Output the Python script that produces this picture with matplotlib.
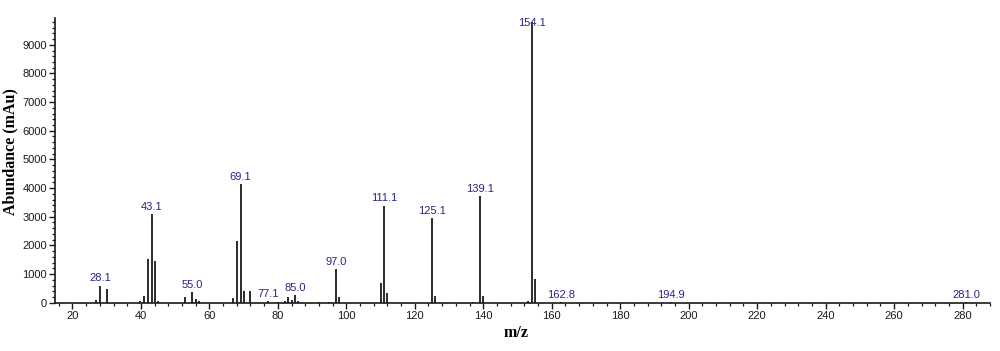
import matplotlib
matplotlib.use("Agg")
import matplotlib.pyplot as plt
from matplotlib.ticker import MultipleLocator

# Peak positions (m/z) and abundances
mz = [27, 28.1, 30, 39.7, 41, 42, 43.1, 44, 45, 53, 55.0, 56, 57,
      67, 68, 69.1, 70, 72, 77.1, 80, 82, 83, 84, 85.0, 86, 92, 95,
      97.0, 98, 110, 111.1, 112, 125.1, 126, 137, 139.1, 140,
      153, 154.1, 155, 162.8, 194.9, 281.0]
abundance = [100, 600, 480, 60, 245, 1515, 3100, 1445, 60, 215, 360, 125, 50,
             150, 2145, 4145, 410, 410, 60, 30, 50, 190, 100, 270, 50, 30, 30,
             1180, 190, 680, 3390, 330, 2970, 245, 20, 3727, 245,
             60, 9800, 817, 20, 10, 10]

# Labelled peaks
label_mz = [28.1, 43.1, 55.0, 69.1, 77.1, 85.0, 97.0, 111.1, 125.1, 139.1,
            154.1, 162.8, 194.9, 281.0]
label_text = ["28.1", "43.1", "55.0", "69.1", "77.1", "85.0", "97.0", "111.1",
              "125.1", "139.1", "154.1", "162.8", "194.9", "281.0"]

x_ticks = [20, 40, 60, 80, 100, 120, 140, 160, 180, 200, 220, 240, 260, 280]
y_ticks = [0, 1000, 2000, 3000, 4000, 5000, 6000, 7000, 8000, 9000]

fig = plt.figure(figsize=(10, 3.51), dpi=100)
ax = fig.add_axes([0.0553, 0.1376, 0.9347, 0.8124])

ax.vlines(mz, 0, abundance, colors="#1a1a1a", linewidth=1.3)

lookup = dict(zip(mz, abundance))
for m, t in zip(label_mz, label_text):
    h = min(lookup[m], 9500)
    ax.annotate(t, (m, h), xytext=(0, 1.5), textcoords="offset points",
                ha="center", va="bottom", color="#25258a", fontsize=8,
                family="Liberation Sans", annotation_clip=False)

ax.set_xlim(15, 288)
ax.set_ylim(0, 9950)
ax.set_xticks(x_ticks)
ax.set_yticks(y_ticks)
ax.xaxis.set_minor_locator(MultipleLocator(4))
ax.yaxis.set_minor_locator(MultipleLocator(200))

for s in ["top", "right"]:
    ax.spines[s].set_visible(False)
for s in ["left", "bottom"]:
    ax.spines[s].set_linewidth(1.2)
    ax.spines[s].set_color("#1a1a1a")

ax.tick_params(axis="both", which="major", length=4, width=1.0,
               labelsize=8, colors="#1a1a1a", pad=2)
ax.tick_params(axis="both", which="minor", length=2.2, width=0.9,
               colors="#1a1a1a")
for lab in ax.get_xticklabels() + ax.get_yticklabels():
    lab.set_family("Liberation Sans")

ax.set_xlabel("m/z", family="Liberation Serif", fontweight="bold",
              fontsize=11.5)
ax.set_ylabel("Abundance (mAu)", family="Liberation Serif", fontweight="bold",
              fontsize=11.5)
ax.xaxis.set_label_coords(0.493, -0.077)
ax.yaxis.set_label_coords(-0.040, 0.53)

fig.savefig("out.png", dpi=100)
